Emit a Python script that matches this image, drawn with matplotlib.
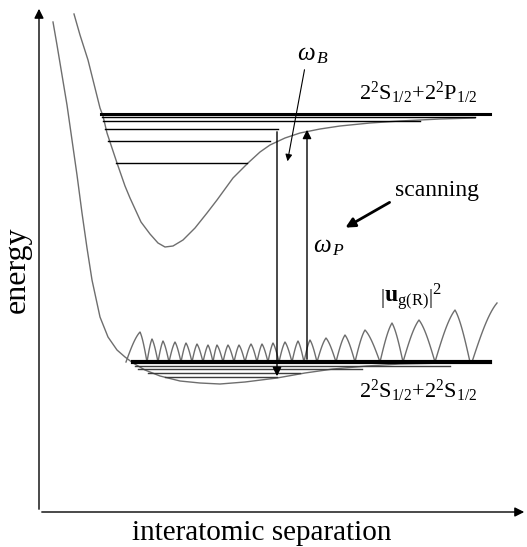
import numpy as np
import matplotlib
matplotlib.use("Agg")
import matplotlib.pyplot as plt

# Schematic of the two Li2 potentials (pixel-like coordinates)

# excited potential 2S+2P
exc_x = [74, 80, 88, 95, 100, 103, 107, 117, 125, 130, 141, 150, 158, 165, 173, 183, 195, 207,
         217, 233, 248, 260, 270, 285, 300, 320, 340, 370, 400, 440, 475]
exc_y = [14, 35, 60, 88, 108, 116, 133, 163, 186, 198, 222, 234, 243, 247, 246, 240, 228, 213,
         200, 178, 163, 152, 145, 138, 133, 129, 126, 123, 121, 119, 118]

# ground potential 2S+2S
gnd_x = [53, 57, 62, 67, 72, 77, 82, 87, 92, 100, 108, 117, 125, 133, 145, 160, 180, 200, 220,
         245, 277, 305, 333, 367, 400, 447]
gnd_y = [22, 45, 75, 105, 140, 175, 213, 248, 280, 317, 337, 350, 357, 363, 370, 376, 381, 383,
         384, 382, 378, 373, 369, 366, 364, 363]

# vibrational levels: energy, left end, right end
up_level_y = [114, 117, 121, 129, 141, 163]
up_level_x0 = [101, 102, 103, 105, 108, 116]
up_level_x1 = [490, 475, 420, 278, 270, 247]

low_level_y = [362, 366, 369, 373, 377]
low_level_x0 = [133, 135, 138, 148, 165]
low_level_x1 = [490, 450, 362, 300, 277]

# |u_g(R)|^2 lobes
wf_base = 362
wf_peak_x = [140, 152, 163, 175, 186, 197, 208, 217, 228, 239, 251, 262, 273, 285, 298, 310,
             326, 345, 365, 392, 419, 455]
wf_peak_y = [332, 339, 341, 342, 343, 344, 345, 345, 345, 345, 344, 344, 343, 342, 341, 340,
             338, 335, 330, 323, 320, 310]
wf_trough_x = [126, 147, 158, 169, 181, 192, 203, 213, 223, 234, 245, 257, 268, 279, 292, 304,
               317, 336, 355, 380, 403, 435, 470]
wf_tail_x = [472, 497]
wf_tail_y = [362, 303]


def lobe_rise(s):
    # straight-sided hump with a slightly rounded top
    return 0.5 * (np.sin(0.5 * np.pi * s) + s)


plt.rcParams['font.family'] = 'Liberation Serif'
plt.rcParams['mathtext.fontset'] = 'custom'
plt.rcParams['mathtext.rm'] = 'Liberation Serif'
plt.rcParams['mathtext.it'] = 'Liberation Serif:italic'
plt.rcParams['mathtext.bf'] = 'Liberation Serif:bold'

fig = plt.figure(figsize=(5.27, 5.47), dpi=100)
ax = fig.add_axes([0, 0, 1, 1])
ax.set_xlim(0, 527)
ax.set_ylim(547, 0)
ax.axis('off')

# axes with arrows
ax.annotate('', xy=(39, 6), xytext=(39, 512),
            arrowprops=dict(arrowstyle='-|>', color='k', lw=1, mutation_scale=14))
ax.annotate('', xy=(527, 512), xytext=(39, 512),
            arrowprops=dict(arrowstyle='-|>', color='k', lw=1, mutation_scale=14))

gray = '#6e6e6e'
ax.plot(exc_x, exc_y, color=gray, lw=1)
ax.plot(gnd_x, gnd_y, color=gray, lw=1)

for i, (y, x0, x1) in enumerate(zip(up_level_y, up_level_x0, up_level_x1)):
    ax.plot([x0, x1], [y, y], color='k', lw=2.2 if i == 0 else 1)
for i, (y, x0, x1) in enumerate(zip(low_level_y, low_level_x0, low_level_x1)):
    ax.plot([x0, x1], [y, y], color='k' if i == 0 else '#3c3c3c', lw=3 if i == 0 else 1, zorder=3)

# wavefunction lobes, each peaked at the read peak position
for i in range(len(wf_peak_x)):
    a, p, b = wf_trough_x[i], wf_peak_x[i], wf_trough_x[i + 1]
    amp = wf_base - wf_peak_y[i]
    xl = np.linspace(a, p, 15)
    xr = np.linspace(p, b, 15)
    yl = wf_base - amp * lobe_rise((xl - a) / (p - a))
    yr = wf_base - amp * lobe_rise((b - xr) / (b - p))
    ax.plot(np.r_[xl, xr], np.r_[yl, yr], color=gray, lw=1)
xt = np.linspace(wf_tail_x[0], wf_tail_x[1], 15)
yt = wf_tail_y[0] - (wf_tail_y[0] - wf_tail_y[1]) * lobe_rise((xt - xt[0]) / (xt[-1] - xt[0]))
ax.plot(xt, yt, color=gray, lw=1)

# transitions
ax.annotate('', xy=(277, 379), xytext=(277, 129),
            arrowprops=dict(arrowstyle='-|>', color='k', lw=1, mutation_scale=13), zorder=4)
ax.annotate('', xy=(307, 127), xytext=(307, 362),
            arrowprops=dict(arrowstyle='-|>', color='k', lw=1, mutation_scale=13), zorder=4)
ax.annotate('', xy=(287, 164), xytext=(305, 67),
            arrowprops=dict(arrowstyle='-|>', color='k', lw=0.8, mutation_scale=10))
ax.annotate('', xy=(343, 229), xytext=(392, 201),
            arrowprops=dict(arrowstyle='-|>', color='k', lw=2, mutation_scale=14))

# labels
ax.text(297, 60, r'$\omega_{\,B}$', fontsize=18, va='baseline')
ax.text(313, 252, r'$\omega_{\,P}$', fontsize=18, va='baseline')
ax.text(395, 196, 'scanning', fontsize=17, va='baseline')
ax.text(359, 100, r'$2^2\mathrm{S}_{1/2}{+}2^2\mathrm{P}_{1/2}$', fontsize=16, va='baseline')
ax.text(359, 398, r'$2^2\mathrm{S}_{1/2}{+}2^2\mathrm{S}_{1/2}$', fontsize=16, va='baseline')
ax.text(380, 302, r'$\left|\mathbf{u}_{\mathrm{g(R)}}\right|^2$', fontsize=17, va='baseline')
ax.text(17, 270, 'energy', fontsize=23, rotation=90, ha='center', va='center')
ax.text(262, 533, 'interatomic separation', fontsize=21, ha='center', va='center')

fig.savefig('out.png', dpi=100)
